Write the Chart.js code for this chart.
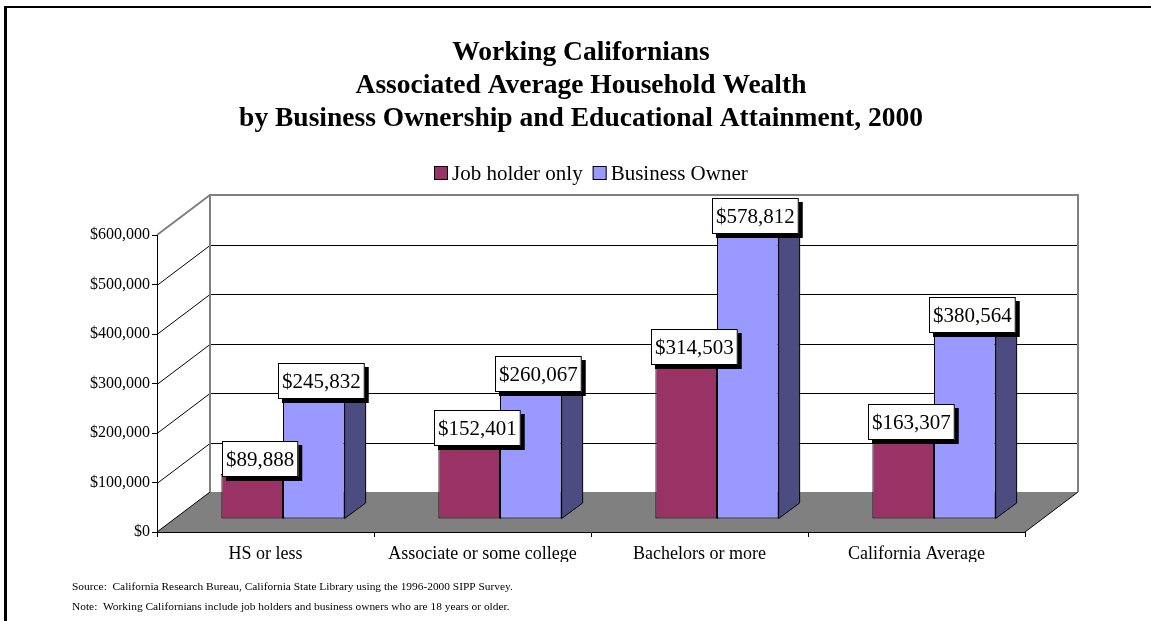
<!DOCTYPE html>
<html>
<head>
<meta charset="utf-8">
<title>Working Californians - Household Wealth</title>
<script src="https://cdn.jsdelivr.net/npm/chart.js@4.4.1/dist/chart.umd.min.js"></script>
<style>
  html, body { margin: 0; padding: 0; background: #fff; }
  #wrap { width: 1151px; height: 621px; position: relative; }
</style>
</head>
<body>
<div id="wrap"><canvas id="wealthChart" width="1151" height="621"></canvas></div>
<script>
// chart data
const categories = ['HS or less', 'Associate or some college', 'Bachelors or more', 'California Average'];
const jobHolderOnly = [89888, 152401, 314503, 163307];
const businessOwner = [245832, 260067, 578812, 380564];
const seriesNames = ['Job holder only', 'Business Owner'];
const yTickValues = [0, 100000, 200000, 300000, 400000, 500000, 600000];

const titleLines = [
    'Working Californians',
    'Associated Average Household Wealth',
    'by Business Ownership and Educational Attainment, 2000'
];
const footnotes = [
    'Source:  California Research Bureau, California State Library using the 1996-2000 SIPP Survey.',
    'Note:  Working Californians include job holders and business owners who are 18 years or older.'
];

const SERIF = '"Liberation Serif", "Times New Roman", serif';
const money = v => '$' + Number(v).toLocaleString('en-US');

// fake 3D: wall depth, plane of the bars' front faces, bar thickness
const WALL = { dx: 53, dy: -40 };
const BAR_FRONT = { dx: 17.5, dy: -13 };
const BAR_DEPTH = { dx: 21, dy: -15.5 };
const SERIES_COLORS = ['#993366', '#9999ff'];
const SIDE_COLORS = ['#4d1a33', '#4c4c80'];
const TOP_COLORS = ['#b3668c', '#b3b3ff'];

function poly(ctx, pts, fill, stroke) {
    ctx.beginPath();
    ctx.moveTo(pts[0][0], pts[0][1]);
    for (let i = 1; i < pts.length; i++) ctx.lineTo(pts[i][0], pts[i][1]);
    ctx.closePath();
    if (fill) { ctx.fillStyle = fill; ctx.fill(); }
    if (stroke) { ctx.strokeStyle = stroke; ctx.lineWidth = 1; ctx.stroke(); }
}

function line(ctx, x1, y1, x2, y2) {
    ctx.beginPath();
    ctx.moveTo(x1, y1);
    ctx.lineTo(x2, y2);
    ctx.stroke();
}

const box3d = {
    id: 'box3d',
    // frame, title, floor and walls behind everything
    beforeDraw(chart) {
        const ctx = chart.ctx;
        const { left, right } = chart.chartArea;
        const y = chart.scales.y;
        const top = y.getPixelForValue(y.max);
        const bottom = y.getPixelForValue(0);

        ctx.save();
        ctx.fillStyle = '#000';
        ctx.fillRect(4, 6, chart.width - 4, 2);
        ctx.fillRect(4, 6, 3, chart.height - 6);

        ctx.font = 'bold 27.5px ' + SERIF;
        ctx.textAlign = 'center';
        ctx.textBaseline = 'alphabetic';
        titleLines.forEach((t, i) => ctx.fillText(t, 581, 60 + i * 33));

        // floor
        poly(ctx, [
            [left, bottom], [right, bottom],
            [right + WALL.dx, bottom + WALL.dy], [left + WALL.dx, bottom + WALL.dy]
        ], '#808080', null);
        ctx.strokeStyle = '#000';
        ctx.lineWidth = 1;
        line(ctx, left, bottom, left + WALL.dx, bottom + WALL.dy);
        line(ctx, right, bottom, right + WALL.dx, bottom + WALL.dy);

        // gridlines across the side wall and the back wall
        ctx.strokeStyle = '#000';
        ctx.lineWidth = 1;
        yTickValues.forEach(v => {
            if (v === 0 || v === y.max) return;
            const py = Math.round(y.getPixelForValue(v)) + 0.5;
            line(ctx, left, py, left + WALL.dx, py + WALL.dy);
            line(ctx, left + WALL.dx, py + WALL.dy, right + WALL.dx, py + WALL.dy);
        });

        // wall outline
        ctx.strokeStyle = '#808080';
        ctx.lineWidth = 2;
        ctx.beginPath();
        ctx.moveTo(left, top);
        ctx.lineTo(left + WALL.dx, top + WALL.dy);
        ctx.lineTo(right + WALL.dx, top + WALL.dy);
        ctx.lineTo(right + WALL.dx, bottom + WALL.dy);
        ctx.moveTo(left + WALL.dx, top + WALL.dy);
        ctx.lineTo(left + WALL.dx, bottom + WALL.dy);
        ctx.stroke();
        ctx.restore();
    },
    // side and top faces, then the bars themselves in the same shifted plane
    beforeDatasetsDraw(chart) {
        const ctx = chart.ctx;
        ctx.save();
        ctx.translate(BAR_FRONT.dx, BAR_FRONT.dy);
        chart.data.datasets.forEach((ds, i) => {
            chart.getDatasetMeta(i).data.forEach(bar => {
                const { x, y, base, width } = bar.getProps(['x', 'y', 'base', 'width'], true);
                const x0 = x - width / 2, x1 = x + width / 2;
                poly(ctx, [
                    [x1, y], [x1 + BAR_DEPTH.dx, y + BAR_DEPTH.dy],
                    [x1 + BAR_DEPTH.dx, base + BAR_DEPTH.dy], [x1, base]
                ], SIDE_COLORS[i], '#000');
                poly(ctx, [
                    [x0, y], [x1, y],
                    [x1 + BAR_DEPTH.dx, y + BAR_DEPTH.dy], [x0 + BAR_DEPTH.dx, y + BAR_DEPTH.dy]
                ], TOP_COLORS[i], '#000');
            });
        });
    },
    afterDatasetsDraw(chart) {
        const ctx = chart.ctx;
        ctx.restore();

        // value boxes above each bar
        ctx.save();
        ctx.font = '21px ' + SERIF;
        ctx.textAlign = 'center';
        ctx.textBaseline = 'middle';
        chart.data.datasets.forEach((ds, i) => {
            chart.getDatasetMeta(i).data.forEach((bar, j) => {
                const { x, y } = bar.getProps(['x', 'y'], true);
                const text = money(ds.data[j]);
                const w = ctx.measureText(text).width + 8;
                const h = 36;
                const cx = x + BAR_FRONT.dx + 8;
                const cy = y + BAR_FRONT.dy - 16;
                const bx = Math.round(cx - w / 2), by = Math.round(cy - h / 2);
                ctx.fillStyle = '#000';
                ctx.fillRect(bx + 4, by + 4, w, h);
                ctx.fillStyle = '#fff';
                ctx.fillRect(bx, by, w, h);
                ctx.strokeStyle = '#000';
                ctx.lineWidth = 1;
                ctx.strokeRect(bx + 0.5, by + 0.5, w - 1, h - 1);
                ctx.fillStyle = '#000';
                ctx.fillText(text, bx + w / 2, by + h / 2 + 1);
            });
        });
        ctx.restore();
    },
    // legend and footnotes
    afterDraw(chart) {
        const ctx = chart.ctx;
        const area = chart.chartArea;
        ctx.save();
        ctx.font = '21px ' + SERIF;
        ctx.textBaseline = 'alphabetic';
        ctx.textAlign = 'left';
        const boxSize = 14, gap = 4, spacing = 10, baseY = 180;
        const items = chart.data.datasets.map(ds => ({
            text: ds.label, color: ds.backgroundColor, w: ctx.measureText(ds.label).width
        }));
        const total = items.reduce((s, it) => s + boxSize + gap + it.w, 0) + spacing * (items.length - 1);
        let lx = Math.round((area.left + area.right) / 2 - total / 2);
        items.forEach(it => {
            ctx.fillStyle = it.color;
            ctx.fillRect(lx, baseY - boxSize, boxSize, boxSize);
            ctx.strokeStyle = '#000';
            ctx.lineWidth = 1;
            ctx.strokeRect(lx + 0.5, baseY - boxSize + 0.5, boxSize - 1, boxSize - 1);
            ctx.fillStyle = '#000';
            ctx.fillText(it.text, lx + boxSize + gap, baseY);
            lx += boxSize + gap + it.w + spacing;
        });

        ctx.font = '11.4px ' + SERIF;
        footnotes.forEach((t, i) => ctx.fillText(t, 72, 590 + i * 20));
        ctx.restore();
    }
};

document.addEventListener('DOMContentLoaded', function() {
    const ctx = document.getElementById('wealthChart');
    new Chart(ctx, {
        type: 'bar',
        data: {
            labels: categories,
            datasets: [{
                label: seriesNames[0],
                data: jobHolderOnly,
                backgroundColor: SERIES_COLORS[0],
                borderColor: '#000',
                borderWidth: 1,
                borderSkipped: false
            }, {
                label: seriesNames[1],
                data: businessOwner,
                backgroundColor: SERIES_COLORS[1],
                borderColor: '#000',
                borderWidth: 1,
                borderSkipped: false
            }]
        },
        options: {
            responsive: false,
            animation: false,
            events: [],
            devicePixelRatio: 1,
            categoryPercentage: 0.568,
            barPercentage: 1,
            clip: false,
            layout: { padding: { left: 77, right: 126, top: 235, bottom: 59 } },
            plugins: {
                legend: { display: false },
                tooltip: { enabled: false },
                title: { display: false }
            },
            scales: {
                x: {
                    afterFit: scale => { scale.height = 30; },
                    grid: { drawOnChartArea: false, drawTicks: true, tickLength: 5, color: '#000', offset: true },
                    border: { display: true, color: '#000' },
                    ticks: { color: '#000', padding: 6, font: { family: SERIF, size: 18 }, maxRotation: 0 }
                },
                y: {
                    min: 0,
                    max: yTickValues[yTickValues.length - 1],
                    afterFit: scale => { scale.width = 80; },
                    afterBuildTicks: scale => { scale.ticks = yTickValues.map(v => ({ value: v })); },
                    grid: { drawOnChartArea: false, drawTicks: true, tickLength: 5, color: '#000' },
                    border: { display: true, color: '#000' },
                    ticks: {
                        color: '#000',
                        padding: 2,
                        font: { family: SERIF, size: 16 },
                        callback: v => money(v)
                    }
                }
            }
        },
        plugins: [box3d]
    });
});
</script>
</body>
</html>
